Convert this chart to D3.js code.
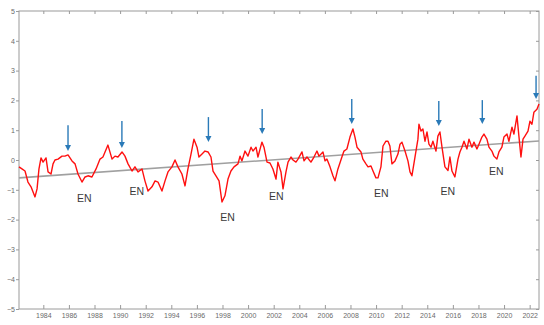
<!DOCTYPE html>
<html>
<head>
<meta charset="utf-8">
<script src="https://cdn.jsdelivr.net/npm/d3@7"></script>
<style>
  body { margin: 0; background: #fff; }
  svg { display: block; }
</style>
</head>
<body>
<div id="chart"></div>
<script>
// anomaly series (decimal year, value)
const years = [1982.10,1982.33,1982.57,1982.80,1983.04,1983.35,1983.51,1983.66,1983.82,1983.98,
  1984.21,1984.37,1984.60,1984.76,1984.91,1985.15,1985.46,1985.69,1985.93,1986.24,
  1986.48,1986.71,1987.02,1987.26,1987.49,1987.80,1988.12,1988.43,1988.66,1989.05,
  1989.37,1989.60,1989.83,1990.15,1990.38,1990.62,1990.93,1991.16,1991.40,1991.71,
  1991.94,1992.18,1992.49,1992.73,1992.96,1993.27,1993.51,1993.74,1994.05,1994.29,
  1994.52,1994.83,1995.07,1995.30,1995.54,1995.77,1996.01,1996.16,1996.40,1996.63,
  1996.87,1997.10,1997.26,1997.49,1997.73,1997.96,1998.19,1998.43,1998.66,1998.90,
  1999.21,1999.37,1999.52,1999.76,1999.99,2000.23,2000.38,2000.62,2000.77,2001.08,
  2001.24,2001.48,2001.71,2001.94,2002.18,2002.33,2002.57,2002.73,2002.96,2003.12,
  2003.35,2003.51,2003.74,2003.90,2004.21,2004.37,2004.60,2004.91,2005.15,2005.38,
  2005.54,2005.85,2006.01,2006.16,2006.40,2006.63,2006.79,2007.02,2007.33,2007.49,
  2007.72,2007.96,2008.19,2008.35,2008.51,2008.82,2008.97,2009.21,2009.37,2009.60,
  2009.76,2009.99,2010.15,2010.38,2010.54,2010.77,2010.93,2011.08,2011.24,2011.48,
  2011.71,2011.87,2012.02,2012.26,2012.49,2012.65,2012.80,2013.04,2013.27,2013.35,
  2013.51,2013.66,2013.82,2013.98,2014.13,2014.29,2014.44,2014.68,2014.83,2014.99,
  2015.15,2015.38,2015.62,2015.77,2015.93,2016.16,2016.40,2016.55,2016.71,2016.87,
  2017.10,2017.26,2017.49,2017.65,2017.88,2018.04,2018.27,2018.43,2018.66,2018.82,
  2019.05,2019.21,2019.44,2019.60,2019.83,2019.99,2020.23,2020.38,2020.62,2020.77,
  2021.01,2021.16,2021.32,2021.48,2021.63,2021.87,2022.02,2022.18,2022.33,2022.57,
  2022.73];
const values = [-0.23,-0.30,-0.37,-0.74,-0.90,-1.24,-0.97,-0.30,0.07,-0.07,
  0.07,-0.40,-0.47,-0.13,0.00,0.03,0.13,0.13,0.17,-0.03,
  -0.13,-0.47,-0.74,-0.57,-0.53,-0.57,-0.30,0.03,0.10,0.50,
  0.03,0.13,0.10,0.27,0.13,-0.13,-0.37,-0.23,-0.40,-0.30,
  -0.70,-1.04,-0.90,-0.70,-0.74,-1.04,-0.70,-0.40,-0.23,0.00,
  -0.23,-0.47,-0.87,-0.30,0.20,0.70,0.43,0.10,0.20,0.30,
  0.27,0.10,-0.37,-0.53,-0.70,-1.41,-1.20,-0.64,-0.37,-0.23,
  -0.13,0.13,-0.03,0.30,0.13,0.43,0.30,0.43,0.10,0.60,
  0.43,-0.07,-0.10,-0.30,-0.64,-0.07,-0.40,-0.97,-0.40,-0.07,
  0.10,0.00,-0.07,0.03,0.27,-0.03,0.10,-0.07,0.10,0.30,
  0.13,0.27,-0.03,0.03,-0.23,-0.53,-0.70,-0.30,0.10,0.30,
  0.37,0.77,1.04,0.77,0.43,0.27,0.03,-0.13,-0.23,-0.20,
  -0.37,-0.60,-0.60,-0.23,0.47,0.63,0.63,0.47,-0.13,-0.03,
  0.20,0.53,0.60,0.30,-0.03,-0.40,-0.53,0.10,0.70,1.20,
  0.97,1.04,0.63,0.94,0.53,0.43,0.63,0.30,0.80,0.94,
  0.43,-0.23,-0.35,0.10,-0.37,-0.57,0.03,0.27,0.43,0.63,
  0.37,0.70,0.43,0.60,0.37,0.53,0.77,0.87,0.70,0.43,
  0.30,0.13,0.03,0.27,0.43,0.77,0.87,0.63,1.10,0.87,
  1.48,0.80,0.10,0.70,0.80,0.97,1.30,1.20,1.60,1.70,
  1.88];

// linear trend end points
const trendYears = [1982.1, 2022.73];
const trendValues = [-0.6, 0.64];

// arrows: year, value at tail, value at head
const arrowYears = [1985.93, 1990.14, 1996.9, 2001.1, 2008.1, 2014.9, 2018.3, 2022.5];
const arrowTops  = [1.17, 1.31, 1.44, 1.71, 2.05, 1.98, 2.01, 2.83];
const arrowHeads = [0.30, 0.40, 0.60, 0.87, 1.21, 1.14, 1.21, 2.05];

// "EN" labels
const enYears  = [1987.2, 1991.3, 1998.4, 2002.2, 2010.4, 2015.6, 2019.4];
const enValues = [-1.28, -1.05, -1.9, -1.2, -1.12, -1.05, -0.38];

const xTicks = d3.range(1984, 2023, 2);
const yTicks = d3.range(-5, 6, 1);

const W = 544, H = 325;
const m = { left: 19, right: 539, top: 11, bottom: 309 };

const svg = d3.select("#chart").append("svg")
    .attr("width", W).attr("height", H)
    .style("font-family", "'Liberation Sans', Arial, sans-serif");

const x = d3.scaleLinear().domain([1982.1, 2022.73]).range([m.left, m.right]);
const y = d3.scaleLinear().domain([-5, 5]).range([m.bottom, m.top]);

const axisColor = "#9a9a9a";
const styleAxis = g => {
  g.select(".domain").remove();
  g.selectAll(".tick line").attr("stroke", axisColor);
  g.selectAll(".tick text").attr("fill", "#6a6a6a").style("font-size", "7px");
};

svg.append("g")
    .attr("transform", `translate(0,${m.bottom})`)
    .call(d3.axisBottom(x).tickValues(xTicks).tickFormat(d3.format("d"))
      .tickSizeInner(-4).tickSizeOuter(0).tickPadding(4))
    .call(styleAxis);

svg.append("g")
    .attr("transform", `translate(0,${m.top})`)
    .call(d3.axisTop(x).tickValues(xTicks).tickFormat("")
      .tickSizeInner(-3).tickSizeOuter(0))
    .call(styleAxis);

svg.append("g")
    .attr("transform", `translate(${m.left},0)`)
    .call(d3.axisLeft(y).tickValues(yTicks).tickFormat(d3.format("d"))
      .tickSizeInner(3).tickSizeOuter(0).tickPadding(1))
    .call(styleAxis);

svg.append("g")
    .attr("transform", `translate(${m.right},0)`)
    .call(d3.axisRight(y).tickValues(yTicks).tickFormat("")
      .tickSizeInner(-3).tickSizeOuter(0))
    .call(styleAxis);

// frame
svg.append("rect")
    .attr("x", m.left).attr("y", m.top)
    .attr("width", m.right - m.left).attr("height", m.bottom - m.top)
    .attr("fill", "none").attr("stroke", axisColor).attr("stroke-width", 1);

const series = years.map((t, i) => ({t, v: values[i]}));

// trend
svg.append("path")
    .datum(trendYears.map((t, i) => ({t, v: trendValues[i]})))
    .attr("fill", "none")
    .attr("stroke", "#a0a0a0")
    .attr("stroke-width", 1.6)
    .attr("d", d3.line().x(d => x(d.t)).y(d => y(d.v)));

// anomaly line
svg.append("path")
    .datum(series)
    .attr("fill", "none")
    .attr("stroke", "#ff1010")
    .attr("stroke-width", 1.4)
    .attr("stroke-linejoin", "round")
    .attr("d", d3.line().x(d => x(d.t)).y(d => y(d.v)));

// arrows
const arrowColor = "#2a7ab8";
const arrows = svg.append("g");
arrowYears.forEach((t, i) => {
  const ax = x(t), y0 = y(arrowTops[i]), y1 = y(arrowHeads[i]);
  arrows.append("line")
      .attr("x1", ax).attr("x2", ax)
      .attr("y1", y0).attr("y2", y1 - 4)
      .attr("stroke", arrowColor).attr("stroke-width", 1.4);
  arrows.append("path")
      .attr("d", `M${ax - 3},${y1 - 6}L${ax + 3},${y1 - 6}L${ax},${y1}Z`)
      .attr("fill", arrowColor);
});

// EN labels
svg.append("g")
  .selectAll("text")
  .data(enYears)
  .join("text")
    .attr("x", d => x(d))
    .attr("y", (d, i) => y(enValues[i]))
    .attr("text-anchor", "middle")
    .attr("dominant-baseline", "central")
    .attr("fill", "#3a3a3a")
    .style("font-size", "10.5px")
    .text("EN");
</script>
</body>
</html>
